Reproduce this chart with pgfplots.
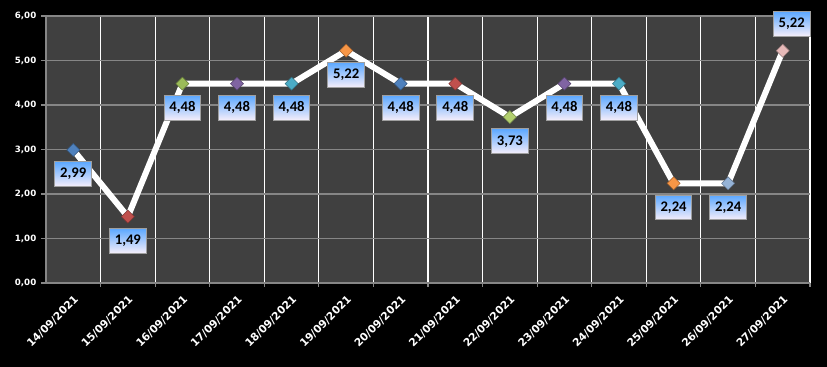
\documentclass[border=0pt]{standalone}
\usepackage{pgfplots}
\pgfplotsset{compat=1.18}
\usepackage{fontspec}
\setmainfont{DejaVu Sans}
\newfontfamily\labfont{Carlito}
\newfontfamily\tickfont{DejaVu Sans}
\definecolor{plotbg}{HTML}{404040}
\definecolor{gridgray}{HTML}{868686}
\definecolor{cA}{HTML}{4F81BD}
\definecolor{cB}{HTML}{C0504D}
\definecolor{cC}{HTML}{9BBB59}
\definecolor{cD}{HTML}{8064A2}
\definecolor{cE}{HTML}{4BACC6}
\definecolor{cF}{HTML}{F79646}
\definecolor{cG}{HTML}{B2CF6E}
\definecolor{cH}{HTML}{95B3D7}
\definecolor{cI}{HTML}{E6B9B8}
\definecolor{labtop}{HTML}{5CA8FF}
\definecolor{labbot}{HTML}{F6EEFA}
\tikzset{
  lab/.style={draw=gray!75, line width=0.8pt,
    top color=labtop, bottom color=labbot, text=black, inner sep=1pt,
    minimum width=27.5pt, minimum height=18.5pt,
    font=\labfont\bfseries\fontsize{11}{12}\selectfont}
}
\pgfplotsset{
  dmark/.style={only marks, mark=square*, mark size=3.45pt,
    mark options={rotate=45, fill=#1, draw=#1!65!black, line width=0.4pt}}
}
\begin{document}
\begin{tikzpicture}
\fill[black] (0,0) rectangle (620.25pt,275.25pt);
\begin{axis}[
  at={(34.5pt,63pt)}, anchor=south west,
  scale only axis, width=573pt, height=200.25pt,
  xmin=0.5, xmax=14.5, ymin=0, ymax=6,
  axis background/.style={fill=plotbg},
  axis x line*=bottom, axis y line*=left,
  axis line style={draw=gridgray, line width=0.8pt},
  xtick={1,...,14},
  xticklabels={14/09/2021,15/09/2021,16/09/2021,17/09/2021,18/09/2021,19/09/2021,20/09/2021,21/09/2021,22/09/2021,23/09/2021,24/09/2021,25/09/2021,26/09/2021,27/09/2021},
  major x tick style={draw=none},
  minor xtick={1.5,2.5,...,14.5},
  xminorgrids=true,
  minor x grid style={white, line width=0.8pt},
  minor x tick style={draw=gridgray, line width=0.8pt},
  tick align=outside,
  major tick length=3.75pt, minor tick length=3pt,
  ytick={0,1,...,6},
  ymajorgrids=true,
  major y grid style={gridgray, line width=0.8pt},
  major y tick style={draw=gridgray, line width=0.8pt},
  /pgf/number format/.cd, use comma, fixed, fixed zerofill, precision=2, assume math mode=true,
  /pgfplots/.cd,
  yticklabel style={text=white, font=\tickfont\bfseries\fontsize{6.5}{7}\selectfont},
  xticklabel style={text=white, rotate=45, anchor=north east, font=\tickfont\bfseries\fontsize{8}{9}\selectfont},
  clip=false,
]
\addplot[white, line width=4.5pt, mark=none, line join=round] coordinates {
(1,2.99) (2,1.49) (3,4.48) (4,4.48) (5,4.48) (6,5.22) (7,4.48) (8,4.48) (9,3.73) (10,4.48) (11,4.48) (12,2.24) (13,2.24) (14,5.22)};
\addplot[dmark=cA] coordinates {(1,2.99) (7,4.48)};
\addplot[dmark=cB] coordinates {(2,1.49) (8,4.48)};
\addplot[dmark=cC] coordinates {(3,4.48)};
\addplot[dmark=cD] coordinates {(4,4.48) (10,4.48)};
\addplot[dmark=cE] coordinates {(5,4.48) (11,4.48)};
\addplot[dmark=cF] coordinates {(6,5.22) (12,2.24)};
\addplot[dmark=cG] coordinates {(9,3.73)};
\addplot[dmark=cH] coordinates {(13,2.24)};
\addplot[dmark=cI] coordinates {(14,5.22)};
\addplot[draw=none, mark=none, nodes near coords,
  every node near coord/.style={lab, anchor=north, yshift=-8.5pt}]
coordinates {
(1,2.99) (2,1.49) (3,4.48) (4,4.48) (5,4.48) (6,5.22) (7,4.48) (8,4.48) (9,3.73) (10,4.48) (11,4.48) (12,2.24) (13,2.24)};
\addplot[draw=none, mark=none, nodes near coords,
  every node near coord/.style={lab, anchor=south, yshift=10.5pt, xshift=6.75pt}]
coordinates {(14,5.22)};
\end{axis}
\end{tikzpicture}
\end{document}
